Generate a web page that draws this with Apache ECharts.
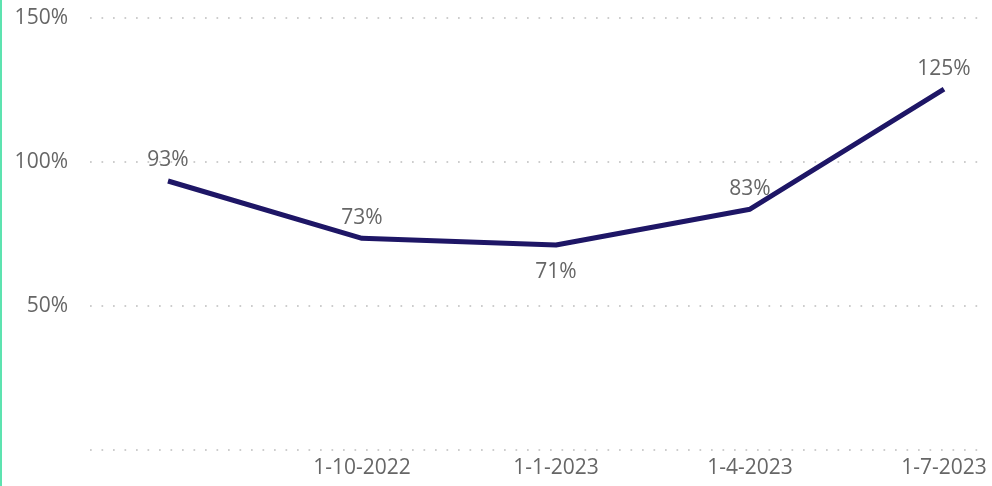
<!DOCTYPE html>
<html>
<head>
<meta charset="utf-8">
<script src="https://cdn.jsdelivr.net/npm/echarts@6/dist/echarts.min.js"></script>
<style>
html,body{margin:0;padding:0;background:#fff;}
#main{width:992px;height:486px;}
</style>
</head>
<body>
<div id="main"></div>
<script>
const categories = ['1-7-2022', '1-10-2022', '1-1-2023', '1-4-2023', '1-7-2023'];
const values = [93.4, 73.5, 71.2, 83.6, 125.3];
const labelPositions = ['top', 'top', 'bottom', 'top', 'top'];
const yTicks = [0, 50, 100, 150];

const FONT = '"Segoe UI", "Open Sans", "Noto Sans", sans-serif';
const chart = echarts.init(document.getElementById('main'));
chart.setOption({
  animation: false,
  graphic: [{
    type: 'rect', left: 0, top: 0, shape: {width: 2, height: 486},
    style: {fill: '#5de3b0'}, silent: true
  }],
  grid: [
    {left: 90, right: 6, top: 18, bottom: 36},
    {left: 168, right: 48, top: 18, bottom: 36}
  ],
  xAxis: [
    {type: 'value', gridIndex: 0, show: false, min: 0, max: 1},
    {
      type: 'category', gridIndex: 1, data: categories, boundaryGap: false,
      axisLine: {show: false}, axisTick: {show: false},
      axisLabel: {
        color: '#666666', fontFamily: FONT, fontSize: 21, margin: 8,
        interval: 0,
        formatter: (v, i) => i === 0 ? '' : v
      }
    }
  ],
  yAxis: [
    {
      type: 'value', gridIndex: 0, min: yTicks[0], max: yTicks[yTicks.length - 1], interval: 50,
      axisLine: {show: false}, axisTick: {show: false},
      axisLabel: {
        color: '#666666', fontFamily: FONT, fontSize: 21, margin: 22,
        formatter: v => v === 0 ? '' : v + '%'
      },
      splitLine: {lineStyle: {color: '#bdbdbd', width: 1.7, type: [1.7, 9.8]}}
    },
    {type: 'value', gridIndex: 1, min: 0, max: 150, show: false, splitLine: {show: false}}
  ],
  series: [{
    type: 'line', xAxisIndex: 1, yAxisIndex: 1,
    data: values.map((v, i) => ({
      value: v,
      label: {position: labelPositions[i], distance: labelPositions[i] === 'top' ? 10 : 17}
    })),
    symbol: 'circle', symbolSize: 0, showSymbol: true,
    itemStyle: {color: '#1e1666'},
    lineStyle: {color: '#1e1666', width: 5},
    label: {
      show: true, color: '#666666', fontFamily: FONT, fontSize: 21,
      formatter: p => Math.floor(p.value) + '%'
    }
  }]
});
</script>
</body>
</html>
